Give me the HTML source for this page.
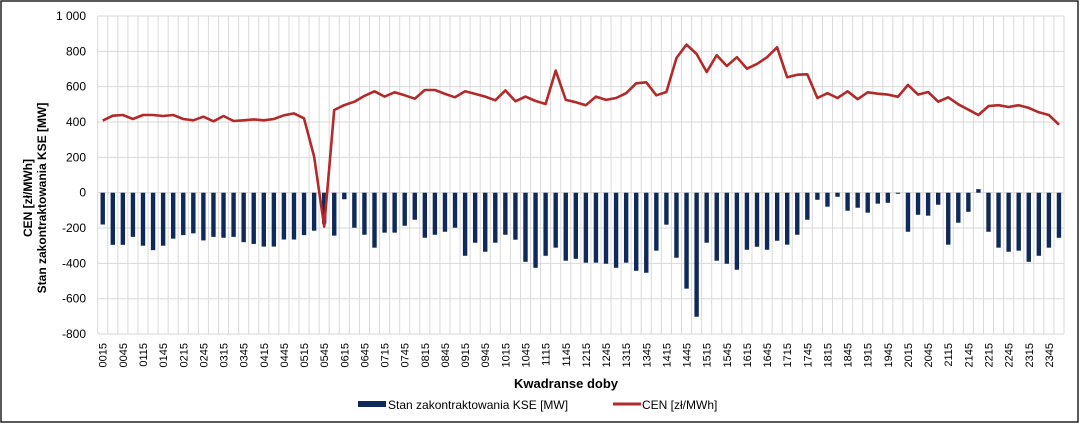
<!DOCTYPE html>
<html><head><meta charset="utf-8"><style>
html,body{margin:0;padding:0;background:#fff;}
svg{display:block;font-family:"Liberation Sans",Arial,sans-serif;}
</style></head><body>
<svg id="c" width="1080" height="424" xmlns="http://www.w3.org/2000/svg"></svg>
<script>
const bars=[-180,-295,-295,-250,-300,-325,-300,-260,-240,-230,-270,-250,-255,-250,-280,-290,-305,-305,-265,-265,-240,-215,-175,-243,-37,-198,-238,-311,-226,-226,-187,-153,-255,-238,-221,-198,-357,-283,-334,-283,-238,-266,-391,-425,-357,-311,-385,-374,-396,-396,-402,-425,-396,-442,-453,-328,-181,-368,-543,-702,-283,-385,-402,-436,-323,-306,-323,-272,-294,-238,-153,-40,-79,-23,-102,-85,-113,-62,-57,-6,-221,-125,-130,-68,-294,-170,-108,20,-221,-311,-334,-328,-391,-357,-311,-255];
const line=[408,436,440,417,440,440,434,440,417,410,430,404,434,406,410,415,410,417,438,449,421,205,-192,468,496,515,548,574,544,568,551,532,581,581,559,540,574,559,544,523,579,517,544,519,502,691,525,512,495,544,525,536,563,619,625,551,570,763,838,785,683,778,717,767,702,729,767,823,653,668,670,536,563,536,574,529,568,560,555,543,610,555,570,515,540,500,470,440,490,495,485,495,480,455,440,385];
const L=97.7,R=1064,T=16,Z=192.7,B=334,n=96,w=(R-L)/n,k=(Z-T)/1000;
const y=v=>Z-v*k;
let s='<rect x="1" y="1" width="1077" height="421" fill="#fff" stroke="#000" stroke-width="1.3"/>';
for(let i=0;i<=n;i++){const x=L+i*w;s+=`<line x1="${x}" y1="${T}" x2="${x}" y2="${B}" stroke="#d9d9d9" stroke-width="1"/>`;}
for(let v=-800;v<=1000;v+=200){const yy=y(v);s+=`<line x1="${L}" y1="${yy}" x2="${R}" y2="${yy}" stroke="#d9d9d9" stroke-width="1"/>`;
s+=`<text x="86" y="${yy+4}" font-size="12" text-anchor="end" fill="#000">${v==1000?'1 000':v}</text>`;}
bars.forEach((v,i)=>{const cx=L+(i+0.5)*w;const y0=Math.min(Z,y(v)),h=Math.abs(y(v)-Z);s+=`<rect x="${cx-2.2}" y="${y0}" width="4.4" height="${h}" fill="#0f2a5a"/>`;});
s+='<polyline fill="none" stroke="#b22a2a" stroke-width="2.6" stroke-linejoin="round" points="'+line.map((v,i)=>(L+(i+0.5)*w).toFixed(1)+','+y(v).toFixed(1)).join(' ')+'"/>';
for(let i=0;i<n;i+=2){const cx=L+(i+0.5)*w;const m=(i+1)*15;const t=String(Math.floor(m/60)).padStart(2,'0')+String(m%60).padStart(2,'0');
s+=`<text transform="translate(${cx+4},343) rotate(-90)" font-size="11" text-anchor="end" fill="#000">${t}</text>`;}
s+='<text transform="translate(32,198) rotate(-90)" font-size="12" font-weight="bold" text-anchor="middle" fill="#000">CEN  [zł/MWh]</text>';
s+='<text transform="translate(46,198) rotate(-90)" font-size="12" font-weight="bold" text-anchor="middle" fill="#000">Stan zakontraktowania KSE [MW]</text>';
s+='<text x="566" y="388" font-size="13" font-weight="bold" text-anchor="middle" fill="#000">Kwadranse doby</text>';
s+='<rect x="358" y="401" width="28" height="6" fill="#0f2a5a"/><text x="388" y="409" font-size="12" fill="#000">Stan zakontraktowania KSE [MW]</text>';
s+='<line x1="613" y1="404" x2="641" y2="404" stroke="#b22a2a" stroke-width="3"/><text x="642" y="409" font-size="12" fill="#000">CEN [zł/MWh]</text>';
document.getElementById('c').innerHTML=s;
</script>
</body></html>
